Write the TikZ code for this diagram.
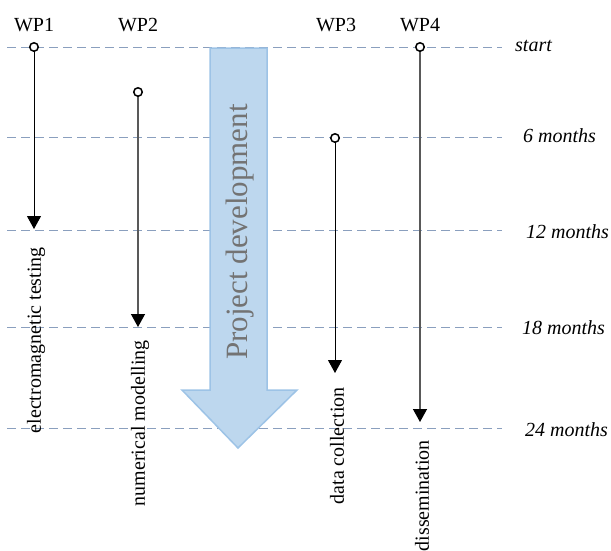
\documentclass[tikz,border=0pt]{standalone}
\usepackage{fontspec}
\setmainfont{Liberation Serif}
\usepackage{xcolor}
\usepackage{tikz}
\usetikzlibrary{arrows.meta}
\definecolor{gridblue}{HTML}{8A9FBE}
\definecolor{arrowfill}{HTML}{BDD7EE}
\definecolor{arrowline}{HTML}{9DC3E6}

\begin{document}
\begin{tikzpicture}[x=1pt,y=-1pt,
  every node/.style={font=\fontsize{20}{24}\selectfont},
  wp/.style={-{Triangle[width=14pt,length=13pt,black]}, line width=1pt},
  dot/.style={circle, draw, fill=white, line width=1.5pt, minimum size=8.5pt, inner sep=0pt},
  task/.style={rotate=90, anchor=east, inner sep=0pt},
  month/.style={anchor=west, inner sep=0pt, font=\fontsize{20}{24}\selectfont\itshape},
  timeline/.style={gridblue, dash pattern=on 9pt off 5pt, line width=0.8pt}]
\useasboundingbox (0,0) rectangle (611,550);
% time axis
\foreach \y/\name in {47/t0,137/t6,230/t12,327/t18,428/t24}{
  \coordinate (\name l) at (7,\y);
  \coordinate (\name r) at (502,\y);
  \draw[timeline] (\name l) -- (\name r);
}
\node[month] (start) at (515,46) {start};
\node[month] (m6) at (523,136) {6 months};
\node[month] (m12) at (526,232) {12 months};
\node[month] (m18) at (522,328) {18 months};
\node[month] (m24) at (525,430) {24 months};
% big arrow
\draw[arrowline, fill=arrowfill, line width=1.5pt] (210,48) -- (267,48) -- (267,390) -- (297,390)
  -- (238,448) -- (182,390) -- (210,390) -- cycle;
\node[rotate=90, text=black!55, font=\fontsize{31}{36}\selectfont] (proj) at (240,232) {Project development};
% work packages
\node (wp1) at (34,25) {WP1};
\node (wp2) at (138,25) {WP2};
\node (wp3) at (336,25) {WP3};
\node (wp4) at (420,25) {WP4};
\node[dot] (wp1s) at (34,47) {};
\node[dot] (wp2s) at (138,92) {};
\node[dot] (wp3s) at (335,138) {};
\node[dot] (wp4s) at (420,47) {};
\coordinate (wp1e) at (34,229);
\coordinate (wp2e) at (138,327);
\coordinate (wp3e) at (335,373);
\coordinate (wp4e) at (420,422);
\draw[wp] (wp1s) -- (wp1e);
\draw[wp, black!65, line width=1.3pt] (wp2s) -- (wp2e);
\draw[wp] (wp3s) -- (wp3e);
\draw[wp, black!65, line width=1.3pt] (wp4s) -- (wp4e);
\node[task] (wp1t) at (36,247) {electromagnetic testing};
\node[task] (wp2t) at (140,340) {numerical modelling};
\node[task] (wp3t) at (337,387) {data collection};
\node[task] (wp4t) at (422,440) {dissemination};
\end{tikzpicture}
\end{document}
